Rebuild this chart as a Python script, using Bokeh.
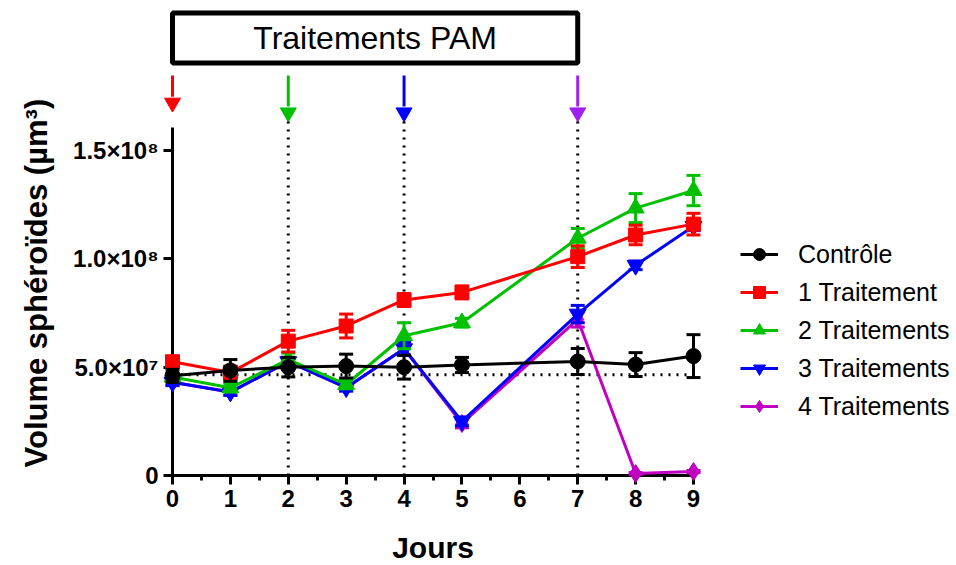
import math
from bokeh.plotting import figure
from bokeh.models import Range1d, FixedTicker, Legend, LegendItem
from bokeh.core.properties import value
from bokeh.embed import file_html
from bokeh.resources import INLINE

# ---------------- data ----------------
days = [0, 1, 2, 3, 4, 5, 7, 8, 9]
series_names = ["Contrôle", "1 Traitement", "2 Traitements", "3 Traitements", "4 Traitements"]

controle = [4.6e7, 4.85e7, 5.0e7, 5.05e7, 5.0e7, 5.1e7, 5.26e7, 5.12e7, 5.51e7]
controle_err = [0.3e7, 0.5e7, 0.45e7, 0.55e7, 0.55e7, 0.35e7, 0.6e7, 0.55e7, 0.99e7]

traitement1 = [5.25e7, 4.75e7, 6.2e7, 6.9e7, 8.1e7, 8.45e7, 1.01e8, 1.11e8, 1.16e8]
traitement1_err = [0.2e7, 0.3e7, 0.5e7, 0.55e7, 0.3e7, 0.3e7, 0.5e7, 0.45e7, 0.5e7]

traitement2 = [4.55e7, 4.05e7, 5.35e7, 4.2e7, 6.45e7, 7.05e7, 1.095e8, 1.234e8, 1.315e8]
traitement2_err = [0.2e7, 0.2e7, 0.3e7, 0.2e7, 0.6e7, 0.2e7, 0.45e7, 0.67e7, 0.7e7]

traitement3 = [4.3e7, 3.85e7, 5.25e7, 4.05e7, 5.85e7, 2.5e7, 7.45e7, 9.7e7, 1.15e8]
traitement3_err = [0.15e7, 0.15e7, 0.2e7, 0.15e7, 0.3e7, 0.2e7, 0.4e7, 0.2e7, 0.2e7]

traitement4 = [4.3e7, 3.85e7, 5.25e7, 4.05e7, 5.85e7, 2.4e7, 7.2e7, 0.09e7, 0.18e7]
traitement4_err = [0.15e7, 0.15e7, 0.2e7, 0.15e7, 0.3e7, 0.2e7, 0.35e7, 0.05e7, 0.05e7]

treatment_days = [0, 2, 4, 7]
treatment_colors = ["#FF0000", "#00C000", "#0000FF", "#A020F0"]
baseline_volume = 4.65e7

x_ticks = [0, 1, 2, 3, 4, 5, 6, 7, 8, 9]
x_minor_ticks = [0.5, 1.5, 2.5, 3.5, 4.5, 5.5, 6.5, 7.5, 8.5]
y_ticks = [0, 50000000, 100000000, 150000000]
y_tick_labels = ["0", "5.0×10⁷", "1.0×10⁸", "1.5×10⁸"]
y_axis_max = 1.606e8
box_label = "Traitements PAM"
x_title = "Jours"
y_title = "Volume sphéroïdes (µm³)"

# ---------------- layout ----------------
FONT = "Liberation Sans"
W, H = 956, 565
LEFT, BOTTOM = 172, 90
AXIS_PX_X = 521                      # pixel length of the 0..9 day axis
AXIS_PX_Y = 348                      # pixel length of the 0..y_axis_max axis
frame_w = W - LEFT
frame_h = H - BOTTOM
x_end = days[-1] * frame_w / AXIS_PX_X
y_end = y_axis_max * frame_h / AXIS_PX_Y

p = figure(width=W, height=H, output_backend="svg", toolbar_location=None,
           x_range=Range1d(0, x_end), y_range=Range1d(0, y_end),
           min_border_left=LEFT, min_border_right=0, min_border_top=0, min_border_bottom=BOTTOM,
           outline_line_color=None, background_fill_color="white", border_fill_color="white")
p.grid.visible = False

# axes
for ax in (p.xaxis[0], p.yaxis[0]):
    ax.axis_line_width = 3
    ax.axis_line_color = "black"
    ax.major_tick_line_width = 3
    ax.minor_tick_line_width = 3
    ax.major_tick_in = 0
    ax.minor_tick_in = 0
    ax.major_label_text_font = FONT
    ax.major_label_text_font_style = "bold"
    ax.major_label_text_font_size = "24px"
    ax.major_label_text_color = "black"

xa = p.xaxis[0]
xa.ticker = FixedTicker(ticks=x_ticks, minor_ticks=x_minor_ticks)
xa.bounds = (days[0], days[-1])
xa.major_tick_out = 9
xa.minor_tick_out = 5
xa.major_label_standoff = 5

ya = p.yaxis[0]
ya.ticker = FixedTicker(ticks=y_ticks, minor_ticks=[])
ya.bounds = (0, y_axis_max)
ya.major_tick_out = 9
ya.minor_tick_out = 0
ya.major_label_standoff = 5
ya.major_label_overrides = dict(zip(y_ticks, y_tick_labels))

LVL = "annotation"

# axis titles (text glyphs, so they can be centred on the bounded axes)
p.text(x=[(days[0] + days[-1]) / 2], y=[0], text=[x_title], y_offset=72,
       text_font=value(FONT), text_font_style="bold", text_font_size="30px",
       text_align="center", text_baseline="alphabetic", text_color="black", level=LVL)
p.text(x=[0], y=[0.888e8], text=[y_title], x_offset=-136, angle=math.pi / 2,
       text_font=value(FONT), text_font_style="bold", text_font_size="31px",
       text_align="center", text_baseline="middle", text_color="black", level=LVL)

# treatment box + label
p.quad(left=[treatment_days[0]], right=[treatment_days[-1]], bottom=[1.904e8], top=[2.134e8],
       fill_color="white", line_color="black", line_width=5, level=LVL)
p.text(x=[(treatment_days[0] + treatment_days[-1]) / 2], y=[2.019e8], text=[box_label],
       text_font=value(FONT), text_font_size="32px", text_align="center",
       text_baseline="middle", text_color="black", level=LVL)

# arrows (shaft + head)
arrow_tip = [1.72e8 if i == 0 else 1.675e8 for i in range(len(treatment_days))]
head_y = [t + 0.028e8 for t in arrow_tip]
p.segment(x0=treatment_days, y0=[1.846e8] * 4, x1=treatment_days, y1=head_y,
          line_color=treatment_colors, line_width=3, level=LVL)
p.scatter(treatment_days, arrow_tip, marker="inverted_triangle", size=16,
          fill_color=treatment_colors, line_color=treatment_colors, line_width=1, level=LVL)

# dotted guides
p.segment(x0=treatment_days[1:], y0=[0] * 3, x1=treatment_days[1:], y1=[1.64e8] * 3,
          line_color="black", line_width=3, line_dash="2 6", level=LVL)
p.segment(x0=[days[0]], y0=[baseline_volume], x1=[days[-1]], y1=[baseline_volume],
          line_color="black", line_width=3, line_dash="2 6", level=LVL)

series = [
    (series_names[4], traitement4, traitement4_err, "#C000C0", "diamond", 18),
    (series_names[3], traitement3, traitement3_err, "#0000FF", "inverted_triangle", 17),
    (series_names[2], traitement2, traitement2_err, "#00C000", "triangle", 17),
    (series_names[1], traitement1, traitement1_err, "#FF0000", "square", 14),
    (series_names[0], controle, controle_err, "#000000", "circle", 15),
]

items = {}
for name, vals, errs, col, mk, sz in series:
    lo = [v - e for v, e in zip(vals, errs)]
    hi = [v + e for v, e in zip(vals, errs)]
    lr = p.line(days, vals, line_color=col, line_width=3, level=LVL)
    p.segment(x0=days, y0=lo, x1=days, y1=hi, line_color=col, line_width=3, level=LVL)
    p.scatter(days, lo, marker="dash", size=14, line_color=col, line_width=3, level=LVL)
    p.scatter(days, hi, marker="dash", size=14, line_color=col, line_width=3, level=LVL)
    mr = p.scatter(days, vals, marker=mk, size=sz, fill_color=col, line_color=col,
                   line_width=1, level=LVL)
    items[name] = LegendItem(label=name, renderers=[lr, mr])

legend = Legend(items=[items[n] for n in series_names], location=(AXIS_PX_X + 47, 54),
                orientation="vertical", glyph_width=38, glyph_height=30, spacing=8,
                label_standoff=20, padding=0, margin=0, border_line_color=None,
                background_fill_alpha=0, label_text_font=FONT,
                label_text_font_size="25px", label_text_color="black",
                label_height=30)
p.add_layout(legend, "center")

open("out.html", "w").write(file_html(p, INLINE))
